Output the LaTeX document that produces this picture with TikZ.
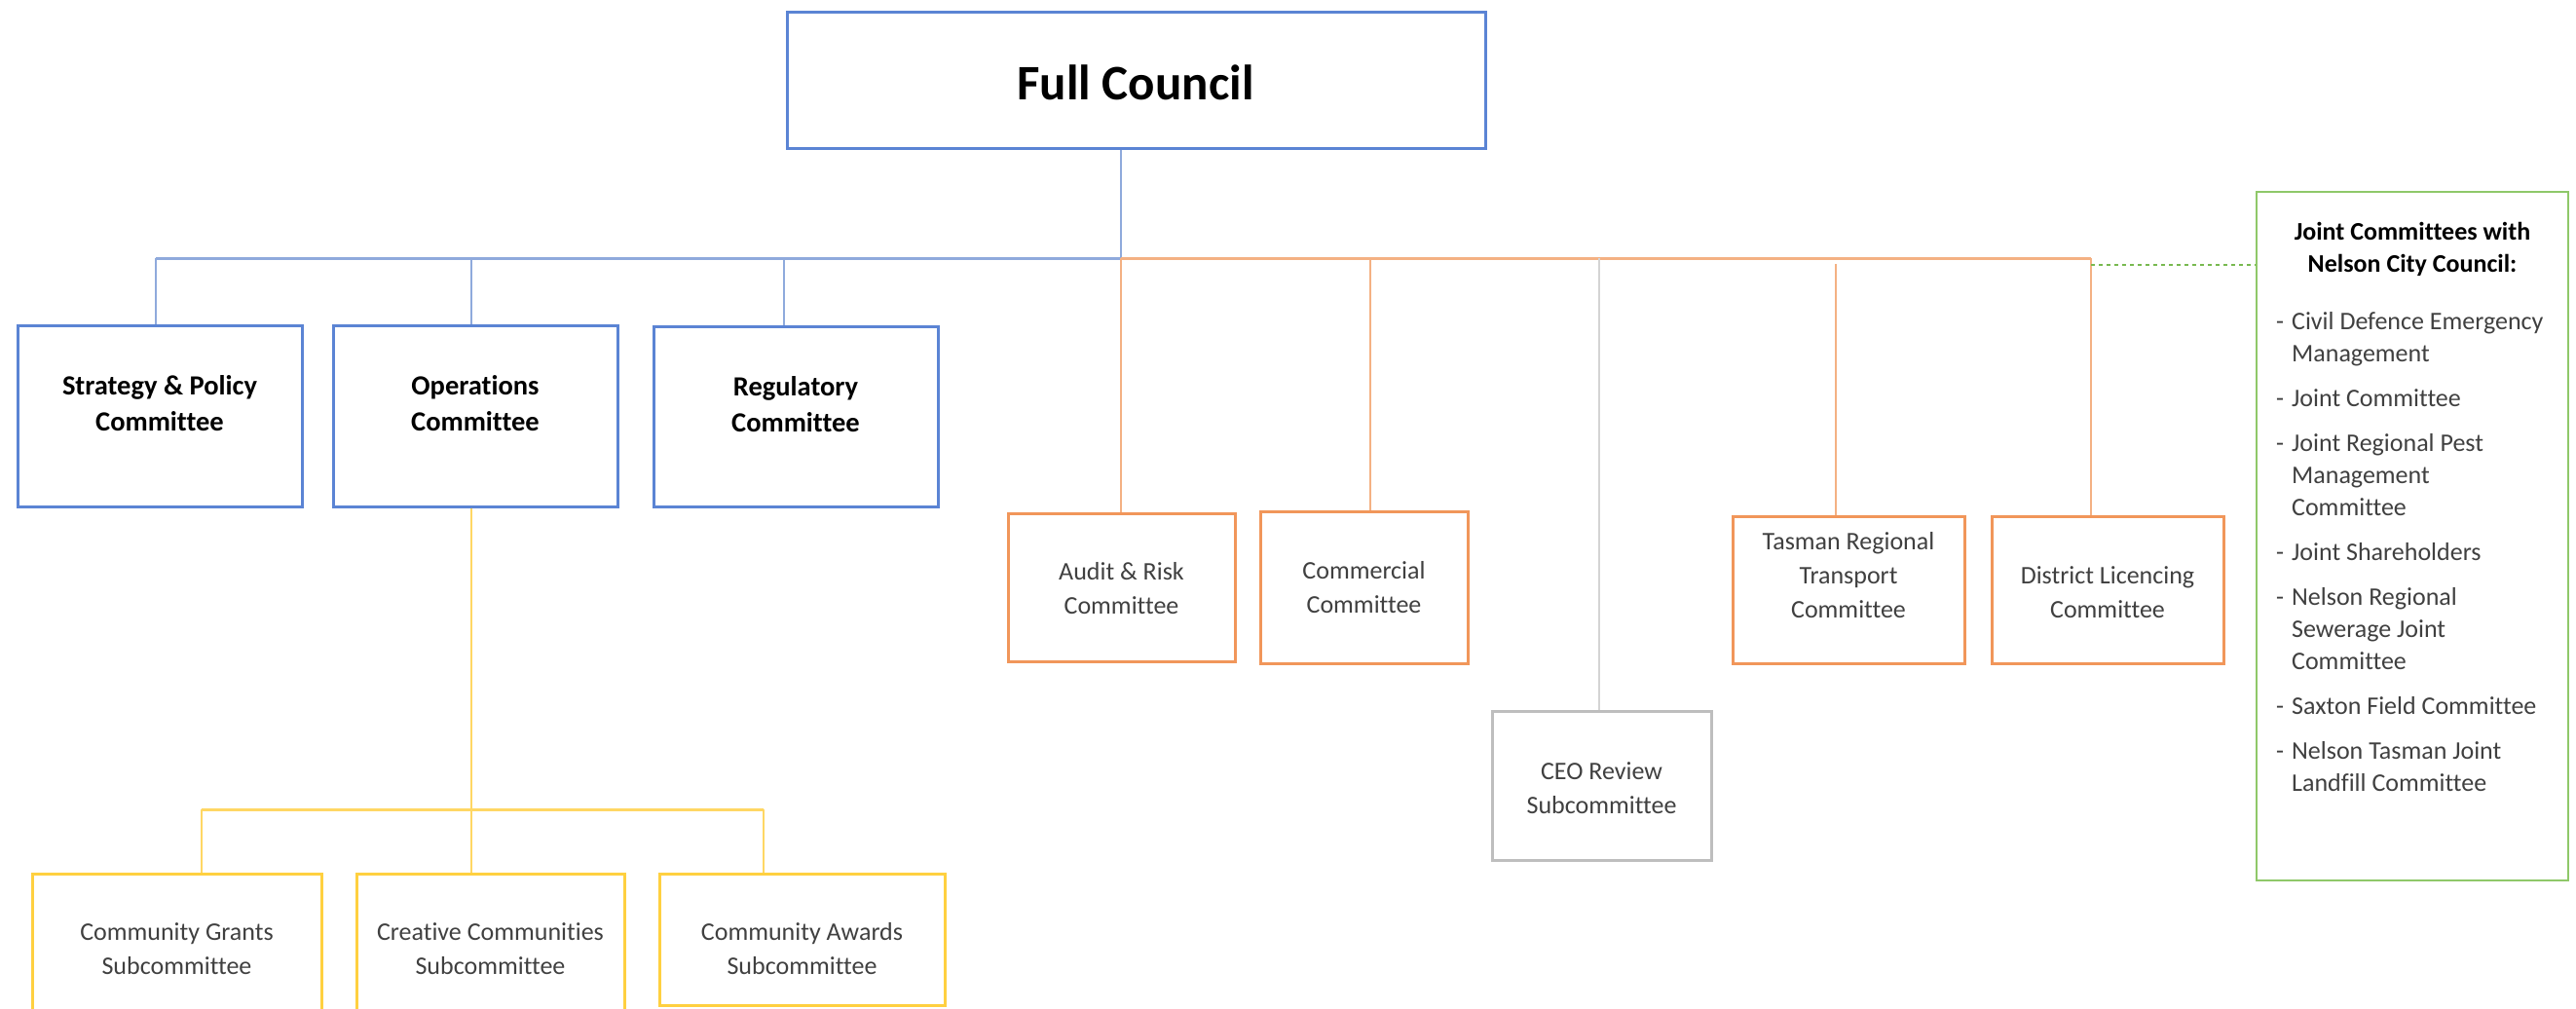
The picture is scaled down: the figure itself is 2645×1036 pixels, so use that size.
\documentclass[tikz,border=0pt]{standalone}
\usepackage{fontspec}
\setmainfont[Ligatures=NoCommon]{Carlito}
\usetikzlibrary{calc}

\definecolor{bluebox}{RGB}{91,132,212}
\definecolor{blueline}{RGB}{143,170,220}
\definecolor{orangebox}{RGB}{241,150,90}
\definecolor{orangeline}{RGB}{244,177,131}
\definecolor{yellowbox}{RGB}{255,208,64}
\definecolor{yellowline}{RGB}{255,215,100}
\definecolor{graybox}{RGB}{190,190,190}
\definecolor{grayline}{RGB}{212,212,212}
\definecolor{greenbox}{RGB}{143,200,105}
\definecolor{greenline}{RGB}{120,185,80}
\definecolor{bodytext}{RGB}{64,64,64}

% centred block of lines with fixed row struts
\newcommand\stack[1]{\begin{tabular}{@{}c@{}}#1\end{tabular}}

\begin{document}
\begin{tikzpicture}[x=1pt,y=-1pt,
  box/.style={draw, rectangle, line width=3pt, inner sep=0pt},
  bluebx/.style={box, draw=bluebox},
  orangebx/.style={box, draw=orangebox},
  yellowbx/.style={box, draw=yellowbox},
  graybx/.style={box, draw=graybox},
  greenbx/.style={box, draw=greenbox, line width=2.5pt},
  lbl/.style={inner sep=0pt},
  boldtxt/.style={lbl, font=\fontsize{28.5}{37}\selectfont\bfseries},
  plaintxt/.style={lbl, text=bodytext, font=\fontsize{26}{35}\selectfont},
  conn/.style={line width=2pt},
  bus/.style={line width=3pt},
]
\clip (0,0) rectangle (2645,1036);
\fill[white] (0,0) rectangle (2645,1036);

% ---- top level
\node[bluebx, minimum width=717pt, minimum height=140pt] (fc) at (1166.5,82) {};
\node[lbl, font=\fontsize{51}{62}\selectfont\bfseries] (fc-t) at (1166,85) {Full Council};

% ---- blue committees
\node[bluebx, minimum width=292pt, minimum height=186pt] (sp) at (164,427) {};
\node[bluebx, minimum width=292pt, minimum height=186pt] (op) at (488,427) {};
\node[bluebx, minimum width=292pt, minimum height=185pt] (rg) at (817,428) {};
\node[boldtxt] (sp-t) at (164,417) {\stack{Strategy \& Policy\\Committee}};
\node[boldtxt] (op-t) at (488,417) {\stack{Operations\\Committee}};
\node[boldtxt] (rg-t) at (817,418) {\stack{Regulatory\\Committee}};

% ---- orange committees
\node[orangebx, minimum width=233pt, minimum height=152pt] (ar) at (1151.5,603) {};
\node[orangebx, minimum width=213pt, minimum height=156pt] (cm) at (1400.5,603) {};
\node[orangebx, minimum width=238pt, minimum height=151pt] (tr) at (1898,605.5) {};
\node[orangebx, minimum width=238pt, minimum height=151pt] (dl) at (2164,605.5) {};
\node[plaintxt] (ar-t) at (1151.5,606) {\stack{Audit \& Risk\\Committee}};
\node[plaintxt] (cm-t) at (1400.5,605) {\stack{Commercial\\Committee}};
\node[plaintxt] (tr-t) at (1898,592.5) {\stack{Tasman Regional\\Transport\\Committee}};
\node[plaintxt] (dl-t) at (2164,610) {\stack{District Licencing\\Committee}};

% ---- CEO review
\node[graybx, minimum width=225pt, minimum height=153pt] (ceo) at (1644.5,806.5) {};
\node[plaintxt] (ceo-t) at (1644.5,811) {\stack{CEO Review\\Subcommittee}};

% ---- yellow subcommittees
\node[yellowbx, minimum width=297pt, minimum height=170pt] (cg) at (181.5,982) {};
\node[yellowbx, minimum width=275pt, minimum height=170pt] (cc) at (503.5,982) {};
\node[yellowbx, minimum width=293pt, minimum height=135pt] (ca) at (823.5,964.5) {};
\node[plaintxt] (cg-t) at (181.5,976) {\stack{Community Grants\\Subcommittee}};
\node[plaintxt] (cc-t) at (503.5,976) {\stack{Creative Communities\\Subcommittee}};
\node[plaintxt] (ca-t) at (823.5,976) {\stack{Community Awards\\Subcommittee}};

% ---- joint committees panel
\node[greenbx, minimum width=320pt, minimum height=707pt] (jc) at (2477,550.5) {};
\node[lbl, font=\fontsize{26}{33}\selectfont\bfseries] (jc-h) at (2477,256)
  {\stack{Joint Committees with\\Nelson City Council:}};
\node[lbl, text=bodytext, font=\fontsize{26}{33}\selectfont, anchor=north west] (jc-l) at (2337,315)
  {\begin{tabular}{@{}l@{\hspace{8pt}}l@{}}
   - & Civil Defence Emergency\\
     & Management\\[13pt]
   - & Joint Committee\\[13pt]
   - & Joint Regional Pest\\
     & Management\\
     & Committee\\[13pt]
   - & Joint Shareholders\\[13pt]
   - & Nelson Regional\\
     & Sewerage Joint\\
     & Committee\\[13pt]
   - & Saxton Field Committee\\[13pt]
   - & Nelson Tasman Joint\\
     & Landfill Committee
   \end{tabular}};

% ---- junction points of the connector tree
\coordinate (hub) at (1151,265);
\coordinate (tSP) at (160,265);
\coordinate (tOP) at (484,265);
\coordinate (tRG) at (805,265);
\coordinate (tCM) at (1407,265);
\coordinate (tCEO) at (1642,265);
\coordinate (tTR) at (1885,271);
\coordinate (tDL) at (2147,265);
\coordinate (tJC) at (2147,272);
\coordinate (yhub) at (484,831);
\coordinate (yL) at (207,831);
\coordinate (yR) at (784,831);

% blue branch
\draw[blueline, conn] (fc.south -| hub) -- (hub);
\draw[blueline, bus] (tSP) -- (hub);
\draw[blueline, conn] (tSP) -- (tSP |- sp.north);
\draw[blueline, conn] (tOP) -- (tOP |- op.north);
\draw[blueline, conn] (tRG) -- (tRG |- rg.north);

% orange branch
\draw[orangeline, bus] (hub) -- (tDL);
\draw[orangeline, conn] (hub) -- (hub |- ar.north);
\draw[orangeline, conn] (tCM) -- (tCM |- cm.north);
\draw[orangeline, conn] (tTR) -- (tTR |- tr.north);
\draw[orangeline, conn] (tDL) -- (tDL |- dl.north);
\draw[grayline, conn] (tCEO) -- (tCEO |- ceo.north);

% link to the joint committees
\draw[greenline, line width=2.5pt, dash pattern=on 4pt off 4pt] (tJC) -- (tJC -| jc.west);

% yellow branch
\draw[yellowline, conn] (op.south -| yhub) -- (yhub |- cc.north);
\draw[yellowline, bus] (yL) -- (yR);
\draw[yellowline, conn] (yL) -- (yL |- cg.north);
\draw[yellowline, conn] (yR) -- (yR |- ca.north);
\end{tikzpicture}
\end{document}
